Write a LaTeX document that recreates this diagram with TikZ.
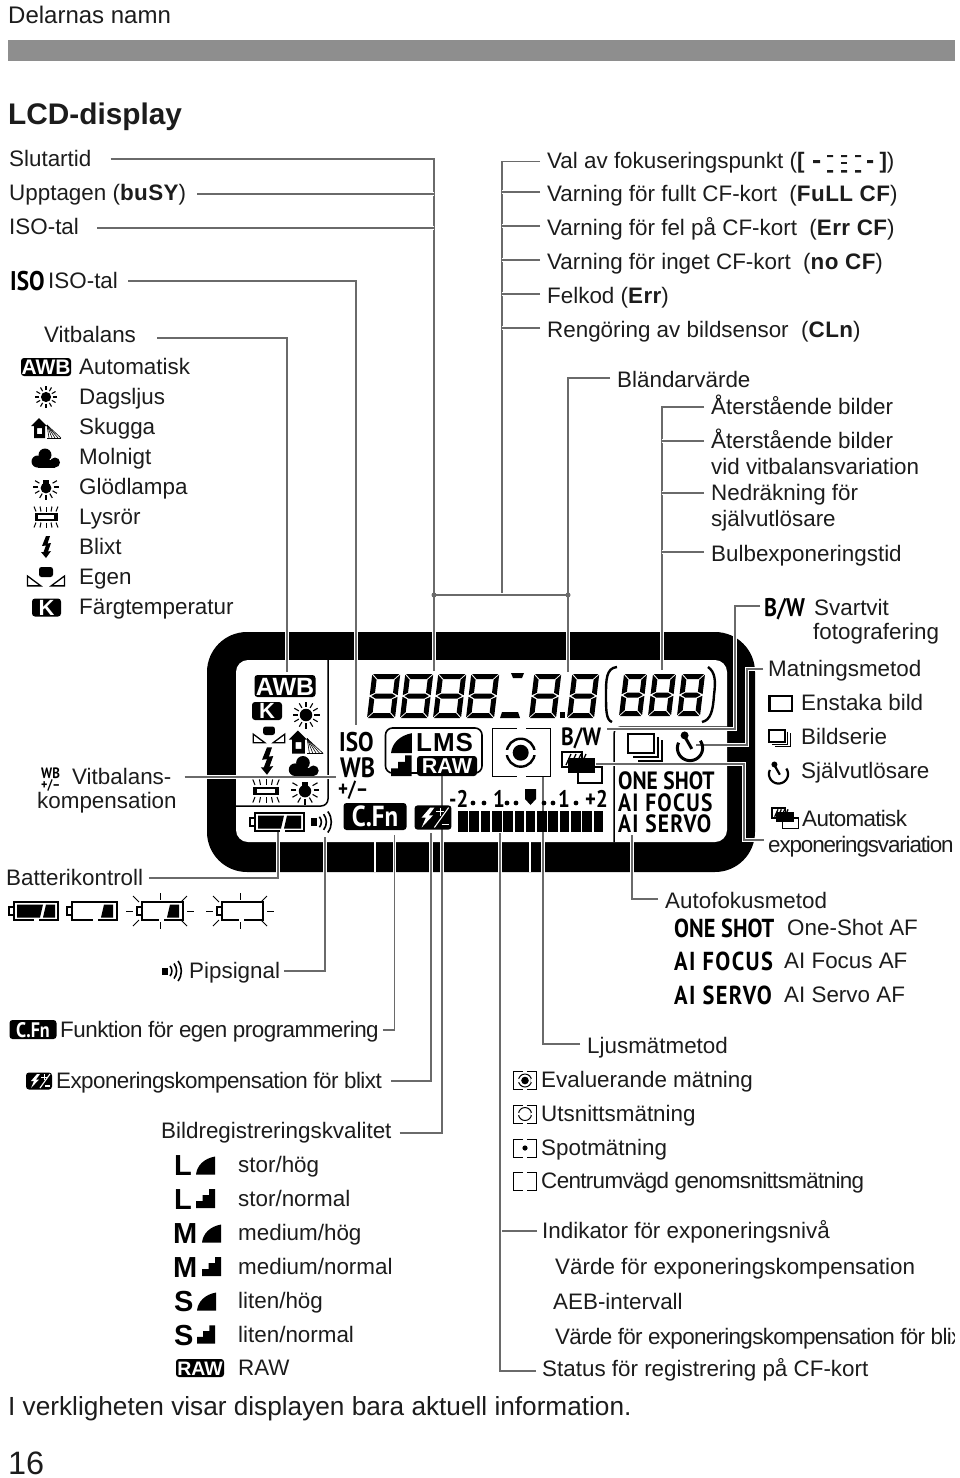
\documentclass[tikz,border=0pt]{standalone}
\usepackage{fontspec}
\setmainfont{Liberation Sans}
\newfontfamily\lcd[FakeStretch=0.86]{PT Sans}
\definecolor{ink}{HTML}{1C1C1C}
\definecolor{connc}{HTML}{6A6A6A}
\definecolor{barc}{HTML}{8E8E8E}
\newcommand{\bs}[1]{{\bfseries\addfontfeature{LetterSpace=2}#1}}
\tikzset{
 lbl/.style={anchor=west,inner sep=0pt,text height=15.8pt,text depth=0pt,text=ink,font=\fontsize{22.4}{26}\selectfont},
 tight/.style={font=\fontsize{22.4}{26}\selectfont\addfontfeature{LetterSpace=-#1}},
 conn/.style={draw=connc,line width=1.7pt,preaction={draw=white,line width=3.6pt}},
 lcdt/.style={anchor=base west,inner sep=0pt,text=black},
 jdot/.style={fill=connc,circle,inner sep=0pt,minimum size=5pt},
}
\newcommand{\lb}[5][]{\node[lbl,#1] (#2) at (#3,#4) {#5};}
\newcommand{\lt}[6][]{\node[lcdt,font=\fontsize{#5}{#5}\selectfont\lcd\bfseries,#1] (#2) at (#3,#4) {#6};}
\newcommand{\bd}[8][]{\pgfmathsetmacro{\bdth}{0.72*#7}\node[fill=black,rounded corners=3pt,text=white,inner sep=0pt,minimum width=#5pt,minimum height=#6pt,text height=\bdth pt,text depth=0pt,font=\fontsize{#7}{#7}\selectfont\bfseries,#1] (#2) at (#3,#4) {#8};}
\newcommand{\sunI}[3]{\begin{scope}[shift={(#1,#2)},scale=#3]
 \fill (0,0) circle (5);
 \foreach \a in {0,30,...,330} \draw[line width=1.1pt] (\a:6.6)--(\a:10.8);
\end{scope}}
\newcommand{\houseI}[3]{\begin{scope}[shift={(#1,#2)},scale=#3]
 \fill (-15,-2) -- (-7,-10) -- (1,-2) -- cycle;
 \fill[even odd rule] (-12,-3) rectangle (-1,10) (-9,0) rectangle (-4,6);
 \foreach \e in {15,12,9,6,3} \draw[line width=.6pt] (1,-3) -- (\e,10);
 \draw[line width=.6pt] (1,10) -- (15,10);
\end{scope}}
\newcommand{\cloudI}[3]{\begin{scope}[shift={(#1,#2)},scale=#3]
 \fill (-8.5,3.5) circle (6); \fill (-1,-3) circle (6.5); \fill (9,4.5) circle (5);
 \fill (-8.5,2) rectangle (9,9.5);
\end{scope}}
\newcommand{\bulbI}[3]{\begin{scope}[shift={(#1,#2)},scale=#3]
 \fill (0,1) circle (5.4); \fill (-2.8,-7) rectangle (2.8,-2);
 \foreach \a in {-30,0,30,60,90,120,150,180,210} \draw[line width=1.1pt] (\a:7.6)--(\a:12.6);
\end{scope}}
\newcommand{\fluorI}[3]{\begin{scope}[shift={(#1,#2)},scale=#3]
 \draw[line width=1.8pt] (-10,-3) rectangle (10,3);
 \fill (-11.5,-3.8) rectangle (-8,3.8); \fill (8,-3.8) rectangle (11.5,3.8);
 \foreach \e/\f in {-10/-12,-5/-6,0/0,5/6,10/12} {\draw[line width=1pt] (\e,-5.5)--(\f,-10.5); \draw[line width=1pt] (\e,5.5)--(\f,10.5);}
\end{scope}}
\newcommand{\flashI}[3]{\begin{scope}[shift={(#1,#2)},scale=#3]
 \fill (0,-11) -- (-4,-1) -- (0,-1.5) -- (-2.5,5) -- (-5,5) -- (0,11) -- (5,4) -- (2,4.5) -- (5,-4) -- (1.5,-3.5) -- (4,-11) -- cycle;
\end{scope}}
\newcommand{\customI}[3]{\begin{scope}[shift={(#1,#2)},scale=#3]
 \fill[rounded corners=2.5pt] (-7,-10) rectangle (7,0);
 \draw[line width=1.3pt] (-18.5,-1) -- (-18.5,9) -- (-5,9) -- cycle;
 \draw[line width=1.3pt] (18.5,-1) -- (18.5,9) -- (5,9) -- cycle;
 \fill (-18.5,9) rectangle (-5,7.8); \fill (18.5,9) rectangle (5,7.8);
\end{scope}}
\newcommand{\fineI}[3]{\fill[shift={(#1,#2)},scale=#3] (0,0) .. controls (1,-9) and (8,-16) .. (19,-18) -- (19,0) -- cycle;}
\newcommand{\stairI}[3]{\fill[shift={(#1,#2)},scale=#3] (0,0) -- (0,-7) -- (6.5,-7) -- (6.5,-13) -- (13,-13) -- (13,-19) -- (19,-19) -- (19,0) -- cycle;}
\newcommand{\beepI}[3]{\begin{scope}[shift={(#1,#2)},scale=#3]
 \fill (0,-3.5) rectangle (6,3.5);
 \draw[line width=1.6pt] (8,-5) .. controls (10.5,-2) and (10.5,2) .. (8,5);
 \draw[line width=1.6pt] (12,-7.5) .. controls (15.5,-3) and (15.5,3) .. (12,7.5);
 \draw[line width=1.6pt] (16,-10) .. controls (20.5,-4) and (20.5,4) .. (16,10);
\end{scope}}
\newcommand{\flashcomp}[3]{\begin{scope}[shift={(#1,#2)},scale=#3]
 \fill[rounded corners=3pt] (-13,-8.5) rectangle (13,8.5);
 \fill[white] (-2,-7) -- (-8,0) -- (-5,0) -- (-8,7) -- (0,-1.5) -- (-3,-1.5) -- (1,-7) -- cycle;
 \draw[white,line width=1pt] (2,-4)--(8,-4) (5,-7)--(5,-1);
 \draw[white,line width=1.1pt] (1,7)--(11,-7);
 \draw[white,line width=1.2pt] (6,5)--(11,5);
\end{scope}}
\newcommand{\batI}[4]{\begin{scope}[shift={(#1,#2)}]
 \draw[line width=1.8pt] (0,-9) rectangle (#4,9);
 \draw[line width=1.6pt] (-5,-4) rectangle (0,4);
 \fill[white] (#4-24,7.5) rectangle (#4-19,10.5);
 \ifnum#3=0
  \fill (3,-6.5) -- (29,-6.5) -- (26,6.5) -- (3,6.5) -- cycle;
  \fill (32,-6.5) -- (#4-3,-6.5) -- (#4-3,6.5) -- (29,6.5) -- cycle;
 \fi
 \ifnum#3=1
  \fill (#4-13,-6.5) -- (#4-4,-6.5) -- (#4-4,6.5) -- (#4-16,6.5) -- cycle;
 \fi
 \ifnum#3=2
  \fill (#4-13,-6.5) -- (#4-4,-6.5) -- (#4-4,6.5) -- (#4-16,6.5) -- cycle;
 \fi
\end{scope}}
\newcommand{\batrays}[2]{\begin{scope}[shift={(#1,#2)},line width=.8pt]
 \draw (-34,0)--(-27,0) (27,0)--(34,0) (0,-18)--(0,-11) (0,11)--(0,18);
 \draw (-27,-15)--(-21,-9) (27,-15)--(21,-9) (-27,15)--(-21,9) (27,15)--(21,9);
\end{scope}}
\newcommand{\metframe}[5]{\draw[line width=#5pt] (#1+#3*.42,#2) -- (#1,#2) -- (#1,#2+#4) -- (#1+#3*.42,#2+#4) (#1+#3*.58,#2) -- (#1+#3,#2) -- (#1+#3,#2+#4) -- (#1+#3*.58,#2+#4);}
\newcommand{\metarc}[4]{\draw[line width=#4pt] (#1,#2) circle (#3);
 \fill[white] (#1-#3-#4,#2-#3*.18) rectangle (#1-#3+#4,#2+#3*.18);
 \fill[white] (#1+#3-#4,#2-#3*.18) rectangle (#1+#3+#4,#2+#3*.18);}
\newcommand{\bktI}[3]{\begin{scope}[shift={(#1,#2)},scale=#3]
 \draw[line width=1.3pt] (16,15) rectangle (40,31);
 \draw[line width=1.3pt] (0,0) rectangle (20,15);
 \foreach \k in {4,9,14,19} \draw[line width=1.3pt] (\k,13) -- (\k+5,2);
 \fill (6,6) rectangle (32.5,21);
\end{scope}}
\newcommand{\seriesI}[3]{\begin{scope}[shift={(#1,#2)},scale=#3]
 \draw[line width=2.2pt] (1,1) rectangle (27,20);
 \draw[line width=1.1pt] (31,4) -- (31,24) -- (6,24);
 \draw[line width=1.1pt] (35,7) -- (35,28) -- (11,28);
\end{scope}}
\newcommand{\timerI}[4]{\begin{scope}[shift={(#1,#2)},scale=#3]
 \draw[line width=#4] plot[domain=-35:205,samples=30,smooth] ({14*cos(\x)},{14*sin(\x)});
 \fill (-6,-14) circle (4.4);
 \draw[line width=#4] (-6,-13) -- (2,1);
\end{scope}}
\newcommand{\lcdigit}[4]{\begin{scope}[shift={(#1,#2)},xslant=0.12]
 \def\sw{#3}\def\sh{#4}\def\st{5}\def\sg{.8}
 \fill (\sg,-\sh) -- (\sw-\sg,-\sh) -- (\sw-\st-\sg,-\sh+\st) -- (\st+\sg,-\sh+\st) -- cycle;
 \fill (\sg,0) -- (\sw-\sg,0) -- (\sw-\st-\sg,-\st) -- (\st+\sg,-\st) -- cycle;
 \fill (\sg+1,-\sh/2) -- (\st+1,-\sh/2-\st/2) -- (\sw-\st-1,-\sh/2-\st/2) -- (\sw-\sg-1,-\sh/2) -- (\sw-\st-1,-\sh/2+\st/2) -- (\st+1,-\sh/2+\st/2) -- cycle;
 \fill (0,-\sh+\sg) -- (\st,-\sh+\st+\sg) -- (\st,-\sh/2-\st/2-\sg) -- (0,-\sh/2-\sg) -- cycle;
 \fill (0,-\sh/2+\sg) -- (\st,-\sh/2+\st/2+\sg) -- (\st,-\st-\sg) -- (0,-\sg) -- cycle;
 \fill (\sw,-\sh+\sg) -- (\sw-\st,-\sh+\st+\sg) -- (\sw-\st,-\sh/2-\st/2-\sg) -- (\sw,-\sh/2-\sg) -- cycle;
 \fill (\sw,-\sh/2+\sg) -- (\sw-\st,-\sh/2+\st/2+\sg) -- (\sw-\st,-\st-\sg) -- (\sw,-\sg) -- cycle;
\end{scope}}
\begin{document}
\begin{tikzpicture}[x=1pt,y=-1pt]
\useasboundingbox (0,0) rectangle (960,1478);
\fill[white] (0,0) rectangle (960,1478);
% header
\node[lbl,font=\fontsize{24}{26}\selectfont] (head) at (8,16) {Delarnas namn};
\fill[barc] (8,40) rectangle (955,61);
\node[lbl,font=\fontsize{29.8}{32}\selectfont\bfseries,text height=21pt] (title) at (8,114) {LCD-display};
% display body
\fill[black,rounded corners=40pt] (207,632) rectangle (755,872);
\fill[white,rounded corners=12pt] (236,660) rectangle (727,842);
\fill[white] (373.7,842) rectangle (375.5,872);
\fill[white] (529,842) rectangle (531,872);
\draw[line width=1.5pt,rounded corners=7pt] (328,660) |- (236,806);
\draw[line width=1.5pt,rounded corners=7pt] (614,842) |- (727,727);
% LEFT labels
\lb{slut}{9}{159}{Slutartid}
\lb{upp}{9}{193}{Upptagen (\bs{buSY})}
\lb{iso}{9}{227}{ISO-tal}
\lt{isoI}{10}{290}{27}{ISO}
\lb{isoB}{48}{281}{ISO-tal}
\lb{vitb}{44}{335}{Vitbalans}
\bd{awbL}{46}{367}{50}{18}{21}{AWB}
\lb{wb1}{79}{367}{Automatisk}
\sunI{46}{397}{1.02}\lb{wb2}{79}{397}{Dagsljus}
\houseI{46}{428}{1}\lb{wb3}{79}{427}{Skugga}
\cloudI{46}{458}{1}\lb{wb4}{79}{457}{Molnigt}
\bulbI{46}{487}{1}\lb{wb5}{79}{487}{Glödlampa}
\fluorI{46}{517}{1}\lb{wb6}{79}{517}{Lysrör}
\flashI{46}{547}{1}\lb{wb7}{79}{547}{Blixt}
\customI{46}{577}{1}\lb{wb8}{79}{577}{Egen}
\bd{kL}{46.5}{607.5}{29}{18}{22}{K}
\lb{wb9}{79}{607}{Färgtemperatur}
% WB comp
\lt[font=\fontsize{15}{15}\selectfont\lcd\bfseries]{wbsI}{41}{778}{15}{WB}
\lt[font=\fontsize{14}{14}\selectfont\lcd\bfseries]{wbpI}{41}{789}{14}{+/–}
\lb{wbc1}{72}{777}{Vitbalans-}
\lb{wbc2}{37}{801}{kompensation}
% battery
\lb{batt}{6}{878}{Batterikontroll}
\batI{14}{911}{0}{44}
\batI{72}{911}{1}{45}
\batI{142}{911}{2}{41}
\batI{222}{911}{3}{41}
\batrays{160}{911}
\batrays{240}{911}
\beepI{162}{971}{1}
\lb{pip}{189}{971}{Pipsignal}
\bd[font=\fontsize{21}{21}\selectfont\lcd\bfseries]{cfnL}{33}{1029.5}{47}{19}{21}{C.Fn}
\lb[tight=2.3]{cfnT}{60}{1030}{Funktion för egen programmering}
\flashcomp{39}{1081}{1}
\lb[tight=2.5]{exf}{56}{1081}{Exponeringskompensation för blixt}
\lb{brq}{161}{1131}{Bildregistreringskvalitet}
% quality legend
\lt[font=\fontsize{29}{29}\selectfont\bfseries]{qL1}{174}{1175}{29}{L}
\lt[font=\fontsize{29}{29}\selectfont\bfseries]{qL2}{174}{1209}{29}{L}
\lt[font=\fontsize{29}{29}\selectfont\bfseries]{qM1}{173}{1243}{29}{M}
\lt[font=\fontsize{29}{29}\selectfont\bfseries]{qM2}{173}{1277}{29}{M}
\lt[font=\fontsize{29}{29}\selectfont\bfseries]{qS1}{174}{1311}{29}{S}
\lt[font=\fontsize{29}{29}\selectfont\bfseries]{qS2}{174}{1345}{29}{S}
\fineI{196}{1174.5}{1}\stairI{196}{1208}{1}\fineI{202}{1242.5}{1}\stairI{202}{1276}{1}\fineI{197}{1310.5}{1}\stairI{197}{1343.5}{.95}
\bd{rawL}{200}{1368}{48}{18}{19.5}{RAW}
\lb{q1}{238}{1165}{stor/hög}
\lb{q2}{238}{1199}{stor/normal}
\lb{q3}{238}{1233}{medium/hög}
\lb{q4}{238}{1267}{medium/normal}
\lb{q5}{238}{1301}{liten/hög}
\lb{q6}{238}{1335}{liten/normal}
\lb{q7}{238}{1368}{RAW}
% RIGHT top
\lb{val}{547}{161}{Val av fokuseringspunkt (\textbf{[}\hspace{31pt}\hspace{44pt}\textbf{]})}
\fill[ink] (813,160) rectangle (820,163) (867,160) rectangle (873,163);
\fill[ink] (827,155) rectangle (833,157) (841,155) rectangle (847,157) (855,155) rectangle (861,157);
\fill[ink] (841,162) rectangle (847,164);
\fill[ink] (827,170) rectangle (833,172.5) (841,170) rectangle (847,172.5) (855,170) rectangle (861,172.5);
\lb{full}{547}{194}{Varning för fullt CF-kort\ \ (\bs{FuLL CF})}
\lb{err}{547}{228}{Varning för fel på CF-kort\ \ (\bs{Err CF})}
\lb{nocf}{547}{262}{Varning för inget CF-kort\ \ (\bs{no CF})}
\lb{felk}{547}{296}{Felkod (\bs{Err})}
\lb{cln}{547}{330}{Rengöring av bildsensor\ \ (\bs{CLn})}
\lb{blae}{617}{380}{Bländarvärde}
\lb{ater}{711}{407}{Återstående bilder}
\lb{atv1}{711}{441}{Återstående bilder}
\lb{atv2}{711}{467}{vid vitbalansvariation}
\lb{ned1}{711}{493}{Nedräkning för}
\lb{ned2}{711}{519}{självutlösare}
\lb{bulb}{711}{554}{Bulbexponeringstid}
\lt[font=\fontsize{25.5}{25.5}\selectfont\lcd\bfseries]{bwL}{764}{616}{25}{B/W}
\lb{sv1}{814}{608}{Svartvit}
\lb{sv2}{813}{632}{fotografering}
\lb{matn}{768}{669}{Matningsmetod}
\draw[line width=2.6pt] (769.5,696) rectangle (792,711);
\lb{feed1}{801}{703}{Enstaka bild}
\seriesI{768}{729}{.64}
\lb{feed2}{801}{737}{Bildserie}
\timerI{778.5}{774}{.68}{2.2pt}
\lb{feed3}{801}{771}{Självutlösare}
\bktI{772}{808}{.67}
\lb[tight=3]{aut}{802}{819}{Automatisk}
\lb[tight=5]{expv}{768}{845}{exponeringsvariation}
\lb{afm}{665}{901}{Autofokusmetod}
\lt{afa}{674}{937}{26}{ONE SHOT}
\lb{af1}{787}{928}{One-Shot AF}
\lt[font=\fontsize{26}{26}\selectfont\lcd\bfseries\addfontfeature{LetterSpace=5.5}]{afb}{674}{970}{26}{AI FOCUS}
\lb{af2}{784}{961}{AI Focus AF}
\lt[font=\fontsize{26}{26}\selectfont\lcd\bfseries\addfontfeature{LetterSpace=5.5}]{afc}{674}{1004}{26}{AI SERVO}
\lb{af3}{784}{995}{AI Servo AF}
\lb{lju}{587}{1046}{Ljusmätmetod}
\metframe{513.5}{1071.5}{23}{18}{1}
\fill (525,1080.5) circle (3.8); \metarc{525}{1080.5}{6.5}{1}
\lb{me1}{541}{1080}{Evaluerande mätning}
\metframe{513.5}{1105}{23}{18}{1}\metarc{525}{1114}{6.5}{1}
\lb{me2}{541}{1114}{Utsnittsmätning}
\metframe{513.5}{1139}{23}{18}{1}\fill (525,1148) circle (2.6);
\lb{me3}{541}{1148}{Spotmätning}
\metframe{513.5}{1172}{23}{18}{1}
\lb[tight=2.9]{me4}{541}{1181}{Centrumvägd genomsnittsmätning}
\lb{ind}{542}{1231}{Indikator för exponeringsnivå}
\lb{ve1}{555}{1267}{Värde för exponeringskompensation}
\lb{aeb}{553}{1302}{AEB-intervall}
\begin{scope}
\clip (500,1320) rectangle (954,1355);
\lb[tight=3]{ve2}{555}{1337}{Värde för exponeringskompensation för blixt}
\end{scope}
\lb{stat}{542}{1369}{Status för registrering på CF-kort}
\node[lbl,font=\fontsize{26.2}{28}\selectfont,text height=18pt] (foot) at (8,1406) {I verkligheten visar displayen bara aktuell information.};
\node[lbl,font=\fontsize{32.4}{34}\selectfont,text height=23pt] (page) at (8,1463) {16};
% connector end points
\coordinate (eSlut) at (434,671);
\coordinate (eIso) at (356,725);
\coordinate (eWb) at (287,672);
\coordinate (eVal) at (502,595);
\coordinate (eLeft) at (434,595);
\coordinate (eBl) at (568,672);
\coordinate (eAt) at (662,670);
\coordinate (eBw) at (735,729);
\coordinate (eBwEnd) at (607,729);
\coordinate (eMatV) at (747,745);
\coordinate (eMatEnd) at (696,745);
\coordinate (eBkV) at (744,764);
\coordinate (eBkEnd) at (596,764);
\coordinate (eWbc) at (336,777);
\coordinate (eBat) at (278,830);
\coordinate (ePip) at (325,837);
\coordinate (eCfn) at (394.5,835);
\coordinate (eExf) at (431,833);
\coordinate (eBrq) at (442,775);
\coordinate (eInd) at (500,833);
\coordinate (eLju) at (543,777);
\coordinate (eAf) at (632,835);
% connectors
\draw[conn] ([xshift=19pt]slut.east) -| (eSlut);
\draw[conn] ([xshift=11pt,yshift=-1pt]upp.east) -- ([yshift=-1pt]upp.east -| eSlut);
\draw[conn] ([xshift=18pt,yshift=-1pt]iso.east) -- ([yshift=-1pt]iso.east -| eSlut);
\draw[conn] ([xshift=10pt]isoB.east) -| (eIso);
\draw[conn] ([xshift=21pt,yshift=-3pt]vitb.east) -| (eWb);
\draw[conn] ([xshift=-7pt,yshift=-.5pt]val.west) -| (eVal);
\foreach \n in {full,err,nocf,felk,cln}
 \draw[conn] ([xshift=-7pt,yshift=2pt]\n.west) -- ([yshift=2pt]\n.west -| eVal);
\draw[conn] (eLeft) -- (eVal);
\draw[conn] (eVal) -- (eVal -| eBl);
\draw[conn] ([xshift=-7pt,yshift=2pt]blae.west) -| (eBl);
\draw[conn] ([xshift=-7pt]ater.west) -| (eAt);
\draw[conn] ([xshift=-7pt]atv1.west) -- (atv1.west -| eAt);
\draw[conn] ([xshift=-7pt]ned1.west) -- (ned1.west -| eAt);
\draw[conn] ([xshift=-7pt,yshift=2pt]bulb.west) -- ([yshift=2pt]bulb.west -| eAt);
\draw[conn] ([xshift=-4pt,yshift=3pt]bwL.west) -| (eBw) -- (eBwEnd);
\draw[conn] ([xshift=-5pt]matn.west) -| (eMatV) -- (eMatEnd);
\draw[conn] (eBkEnd) -| ([yshift=5pt]expv.west -| eBkV) -- ([xshift=-4pt,yshift=5pt]expv.west);
\draw[conn] ([xshift=13pt]wbc1.east) -- (eWbc);
\draw[conn] ([xshift=6pt]batt.east) -| (eBat);
\draw[conn] ([xshift=4pt]pip.east) -| (ePip);
\draw[conn] ([xshift=4pt]cfnT.east) -| (eCfn);
\draw[conn] ([xshift=9pt]exf.east) -| (eExf);
\draw[conn] ([xshift=8pt,yshift=-2pt]brq.east) -| (eBrq);
\draw[conn] ([xshift=-5pt]ind.west) -| (eInd);
\draw[conn] ([xshift=-6pt,yshift=-2pt]stat.west) -| (eInd);
\draw[conn] ([xshift=-7pt,yshift=2pt]lju.west) -| (eLju);
\draw[conn] ([xshift=-7pt,yshift=2pt]afm.west) -| (eAf);
\node[jdot] (j1) at (eLeft) {};
\node[jdot] (j2) at (eVal -| eBl) {};
% display content
\bd{awbD}{285}{686}{61}{22}{25}{AWB}
\bd{kD}{267}{711}{30}{18}{22}{K}
\sunI{306}{715}{1.25}
\customI{269}{735}{.85}
\houseI{306}{742}{1.15}
\flashI{267}{761}{1.25}
\cloudI{304}{766}{1.05}
\fluorI{266}{791}{1.1}
\bulbI{305}{790}{1.15}
\lt[font=\fontsize{27}{27}\selectfont\lcd\bfseries]{isoD}{339}{751}{27}{ISO}
\lt[font=\fontsize{28}{28}\selectfont\lcd\bfseries]{wbD}{340}{777}{28}{WB}
\lt[font=\fontsize{22}{22}\selectfont\lcd\bfseries]{pmD}{338}{796}{22}{+/–}
\foreach \xd in {367,400,433,466} {\lcdigit{\xd}{718}{28}{44}}
\fill (511,673) -- (524,673) -- (522,678) -- (513,678) -- cycle;
\fill (502,712) -- (518,712) -- (520,718) -- (500,718) -- cycle;
\lcdigit{529}{718}{27}{44}
\lcdigit{567}{718}{27}{44}
\fill (560,712) rectangle (565,718);
\lcdigit{619}{716}{23}{42}
\lcdigit{648}{716}{23}{42}
\lcdigit{677}{716}{23}{42}
\draw[line width=2.4pt] (617,667) .. controls (606,668) and (606,680) .. (606,695) .. controls (606,710) and (606,720) .. (612,722);
\draw[line width=2.4pt] (708,667) .. controls (715,672) and (716,680) .. (714,695) .. controls (713,710) and (711,720) .. (702,722);
\draw[line width=1.6pt,rounded corners=7pt] (385.5,728) rectangle (482,773);
\fineI{391}{753}{1.1}\stairI{391}{776}{1.08}
\lt[font=\fontsize{26}{26}\selectfont\bfseries]{lms}{416}{751.5}{26}{L\hspace{1pt}M\hspace{1pt}S}
\bd{rawD}{447}{766}{60}{20}{21.5}{RAW}
\metframe{492.5}{728.5}{58}{48}{1.8}
\fill (520.7,752.7) circle (8);
\metarc{520.7}{752.7}{14}{2.4}
\lt[font=\fontsize{25}{25}\selectfont\lcd\bfseries]{bwD}{561}{745}{25}{B/W}
\bktI{562}{752}{1}
\seriesI{627}{733}{1}
\timerI{690}{748}{.9}{3pt}
\lt{osD}{618}{789}{25}{ONE SHOT}
\lt[font=\fontsize{25}{25}\selectfont\lcd\bfseries\addfontfeature{LetterSpace=5}]{fcD}{618}{811}{25}{AI FOCUS}
\lt[font=\fontsize{25}{25}\selectfont\lcd\bfseries\addfontfeature{LetterSpace=5}]{svD}{618}{832}{25}{AI SERVO}
\lt{m2}{449}{807}{24}{-2}
\lt{m1a}{493}{807}{24}{1}
\lt{p1a}{558}{807}{24}{1}
\lt{p2}{585}{807}{24}{+2}
\foreach \dx in {473,484,507,516,544,553,576} \fill (\dx,803) circle (2.4);
\fill (525,789) -- (536,789) -- (536,799) -- (530.5,805) -- (525,799) -- cycle;
\foreach \k in {0,...,12} \fill (458+\k*11.3,811) rectangle (458+\k*11.3+9.6,832);
\batI{255}{822}{0}{49}
\beepI{311}{822}{1.05}
\bd[font=\fontsize{29}{29}\selectfont\lcd\bfseries]{cfnD}{375}{816.5}{63}{27}{29}{C.Fn}
\flashcomp{433}{817.5}{1.42}
\end{tikzpicture}
\end{document}
